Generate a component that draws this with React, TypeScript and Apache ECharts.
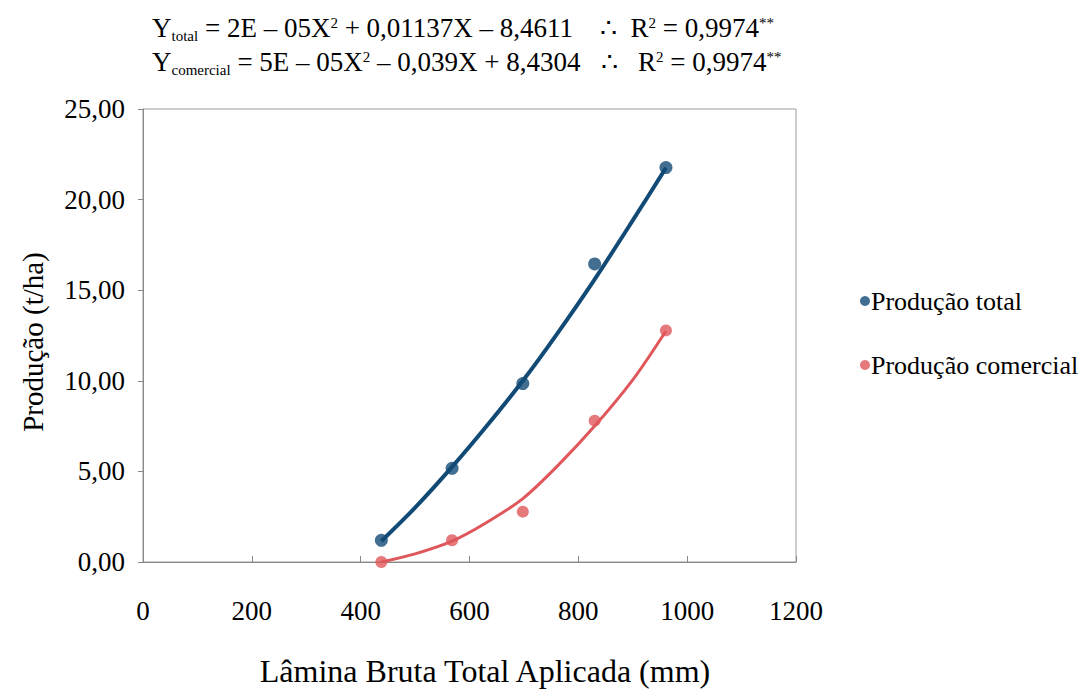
import React, { useEffect, useRef } from "react";
import * as echarts from "echarts";

const xLamina = [438, 568, 698, 830, 961];
const prodTotal = [1.2, 5.17, 9.85, 16.45, 21.77];
const prodComercial = [0.0, 1.2, 2.78, 7.8, 12.78];

const trendX = [438, 500, 568, 630, 698, 760, 830, 900, 961];
const trendTotal = [1.15, 3.0, 5.25, 7.45, 10.0, 12.55, 15.6, 18.85, 21.75];
const trendComercial = [0.0, 0.45, 1.15, 2.15, 3.5, 5.25, 7.5, 10.05, 12.75];

const yTicks = [0, 5, 10, 15, 20, 25];

const SERIF = "Liberation Serif";
const BLUE = "#124a76";
const RED = "#e0575b";

const tx = (size: number) => ({ fontFamily: SERIF, fontSize: size, color: "#000" });

export default function App() {
  const ref = useRef<HTMLDivElement>(null);
  useEffect(() => {
    if (!ref.current) return;
    const chart = echarts.init(ref.current, null, { renderer: "svg" });
    const rich = {
      n: { fontFamily: SERIF, fontSize: 27, color: "#000", lineHeight: 34, verticalAlign: "middle" },
      sub: { fontFamily: SERIF, fontSize: 15, color: "#000", lineHeight: 34, verticalAlign: "bottom", padding: [0, 0, 2, 0] },
      sup: { fontFamily: SERIF, fontSize: 15, color: "#000", lineHeight: 34, verticalAlign: "top", padding: [4, 0, 0, 0] },
    };
    chart.setOption({
      animation: false,
      backgroundColor: "#fff",
      grid: {
        left: 143,
        right: 292,
        top: 109,
        bottom: 127,
        show: true,
        borderColor: "#9a9a9a",
        borderWidth: 1,
        backgroundColor: "transparent",
        outerBoundsMode: "none",
        containLabel: false,
      },
      graphic: [
        {
          type: "text",
          left: 152,
          top: 11,
          style: {
            text: "{n|Y}{sub|total}{n| = 2E – 05X}{sup|2}{n| + 0,01137X – 8,4611    ∴  R}{sup|2}{n| = 0,9974}{sup|**}",
            rich,
          },
        },
        {
          type: "text",
          left: 152,
          top: 45,
          style: {
            text: "{n|Y}{sub|comercial}{n| = 5E – 05X}{sup|2}{n| – 0,039X + 8,4304   ∴   R}{sup|2}{n| = 0,9974}{sup|**}",
            rich,
          },
        },
        {
          type: "text",
          x: 33,
          y: 342,
          rotation: Math.PI / 2,
          style: {
            text: "Produção (t/ha)",
            fontFamily: SERIF,
            fontSize: 29,
            fill: "#000",
            align: "center",
            verticalAlign: "middle",
          },
        },
        {
          type: "text",
          x: 485,
          y: 671,
          style: {
            text: "Lâmina Bruta Total Aplicada (mm)",
            fontFamily: SERIF,
            fontSize: 32,
            fill: "#000",
            align: "center",
            verticalAlign: "middle",
          },
        },
      ],
      legend: {
        orient: "vertical",
        left: 855,
        top: 283,
        itemGap: 38,
        itemWidth: 10,
        itemHeight: 10,
        icon: "circle",
        data: ["Produção total", "Produção comercial"],
        formatter: (name: string) => `{a|${name}}`,
        textStyle: { ...tx(26), padding: [0, 0, 0, -4], rich: { a: tx(26) } },
      },
      xAxis: {
        type: "value",
        min: 0,
        max: 1200,
        interval: 200,
        axisLine: { lineStyle: { color: "#888" } },
        axisTick: { inside: true, length: 6, lineStyle: { color: "#888" } },
        splitLine: { show: false },
        axisLabel: {
          margin: 35,
          ...tx(27),
          rich: { a: tx(27) },
          formatter: (v: number) => `{a|${v}}`,
        },
      },
      yAxis: {
        type: "value",
        min: 0,
        max: 25,
        interval: 5,
        axisLine: { lineStyle: { color: "#888" } },
        axisTick: { length: 5, lineStyle: { color: "#888" } },
        splitLine: { show: false },
        axisLabel: {
          margin: 18,
          ...tx(27),
          rich: { a: tx(27) },
          formatter: (v: number) => (yTicks.includes(v) ? `{a|${v.toFixed(2).replace(".", ",")}}` : ""),
        },
      },
      series: [
        {
          name: "trend-total",
          type: "line",
          data: trendX.map((x, i) => [x, trendTotal[i]]),
          smooth: 0.3,
          showSymbol: false,
          lineStyle: { color: BLUE, width: 4 },
          silent: true,
          z: 2,
        },
        {
          name: "trend-comercial",
          type: "line",
          data: trendX.map((x, i) => [x, trendComercial[i]]),
          smooth: 0.3,
          showSymbol: false,
          lineStyle: { color: RED, width: 3 },
          silent: true,
          z: 2,
        },
        {
          name: "Produção total",
          type: "scatter",
          data: xLamina.map((x, i) => [x, prodTotal[i]]),
          symbol: "circle",
          symbolSize: 13,
          itemStyle: { color: BLUE },
          z: 3,
        },
        {
          name: "Produção comercial",
          type: "scatter",
          data: xLamina.map((x, i) => [x, prodComercial[i]]),
          symbol: "circle",
          symbolSize: 12,
          itemStyle: { color: RED },
          z: 3,
        },
      ],
    });
    return () => chart.dispose();
  }, []);
  return <div ref={ref} style={{ width: 1088, height: 689, position: "absolute", left: 0, top: 0 }} />;
}
